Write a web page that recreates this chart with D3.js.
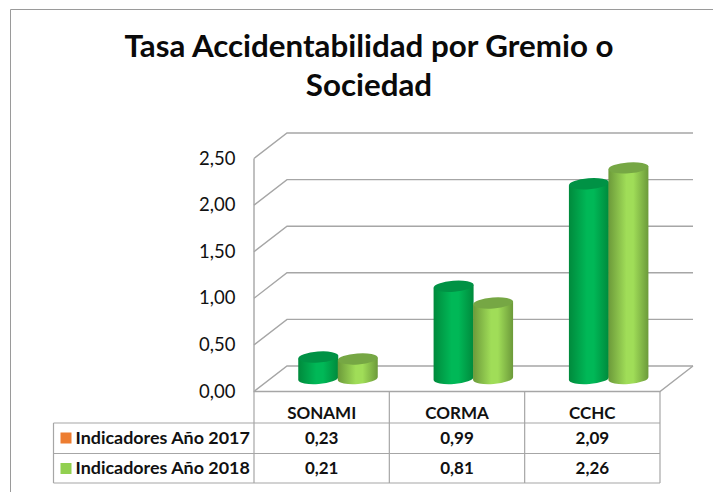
<!DOCTYPE html>
<html><head><meta charset="utf-8">
<script src="https://cdn.jsdelivr.net/npm/d3@7"></script>
<style>
html,body{margin:0;padding:0;background:#fff;overflow:hidden}
text{font-family:Lato,"Open Sans",sans-serif;fill:#111}
</style></head><body>
<svg id="c" width="713" height="492"></svg>
<script>
const categories = ["SONAMI","CORMA","CCHC"];
const seriesNames = ["Indicadores Año 2017","Indicadores Año 2018"];
const values2017 = [0.23,0.99,2.09];
const values2018 = [0.21,0.81,2.26];
const yTicks = [0,0.5,1,1.5,2,2.5];
const titleLines = ["Tasa Accidentabilidad por Gremio o","Sociedad"];
const seriesValues = [values2017,values2018];
const keyColors = ["#ed7d31","#92d050"];
const fmt = v => d3.format(".2f")(v).replace(".",",");

const svg = d3.select("#c");
const defs = svg.append("defs");
const gradients = [["#008a3c","#00b857","#00a64c"],["#6c9a3a","#a0dd58","#7fae45"]];
gradients.forEach((g,i)=>{
  const lg = defs.append("linearGradient").attr("id","cyl"+i).attr("x1",0).attr("x2",1).attr("y1",0).attr("y2",0);
  [[0,g[0]],[0.45,g[1]],[0.62,g[1]],[1,g[0]]].forEach(s=>lg.append("stop").attr("offset",s[0]).attr("stop-color",s[1]));
});
const topColors = ["#009245","#76a744"];
const grey = "#a6a6a6";

const frontL=254, frontR=660, front0=391.5, dx=33, dy=-25.5;
const y = d3.scaleLinear().domain([0,2.5]).range([front0,158.5]);
const x = d3.scaleBand().domain(categories).range([frontL,frontR]);
const sx = d3.scaleBand().domain([0,1]).range([44.5,123.5]);
const barBase = d3.scaleLinear().domain([0,2.5]).range([378.5,145.5]);

// frame: top and left edges only, as in the reference
svg.append("path").attr("d","M713,9.5H10.5V492").attr("fill","none").attr("stroke","#9a9a9a").attr("stroke-width",1);

svg.selectAll("text.t").data(titleLines).join("text").attr("class","t")
  .attr("x",369).attr("y",(d,i)=>57+i*39).attr("text-anchor","middle")
  .style("font-size","31.3px").style("font-weight",700).style("fill","#0a0a0a").text(d=>d);

const wall = svg.append("g").attr("fill","none").attr("stroke",grey).attr("stroke-width",1.4);
wall.selectAll("path.g").data(yTicks).join("path").attr("class","g")
  .attr("d",d=>`M${frontL},${y(d)}L${frontL+dx},${y(d)+dy}L${frontR+dx},${y(d)+dy}`);
wall.append("path").attr("d",`M${frontL},${y(2.5)}V${y(0)}H${frontR}L${frontR+dx},${y(0)+dy}`);

svg.selectAll("text.y").data(yTicks).join("text").attr("class","y")
  .attr("x",235.5).attr("y",d=>y(d)+6).attr("text-anchor","end")
  .style("font-size","18.5px").text(fmt);

const rx=20, ry=5.5, tilt=1.5, rot=-Math.atan2(tilt,rx)*180/Math.PI;
categories.forEach((c,ci)=>{
  seriesValues.forEach((vals,si)=>{
    const v=vals[ci];
    const cx=x(c)+sx(si)+sx.bandwidth()/2;
    const yb=barBase(0), yt=barBase(v);
    const g=svg.append("g").datum(v);
    g.append("path").attr("fill",`url(#cyl${si})`)
      .attr("d",`M${cx-rx},${yt+tilt}V${yb+tilt}A${rx},${ry} ${rot} 0 0 ${cx+rx},${yb-tilt}V${yt-tilt}Z`);
    g.append("ellipse").attr("cx",cx).attr("cy",yt).attr("rx",rx).attr("ry",ry)
      .attr("transform",`rotate(${rot} ${cx} ${yt})`).attr("fill",topColors[si]);
  });
});

const rowY=[391.5,423,453.5,483];
const colX=[frontL,x("CORMA"),x("CCHC"),frontR];
const tbl=svg.append("g").attr("stroke",grey).attr("stroke-width",1.2).attr("fill","none");
tbl.selectAll("line.v").data(colX).join("line").attr("class","v").attr("x1",d=>d).attr("x2",d=>d).attr("y1",rowY[0]).attr("y2",rowY[3]);
tbl.selectAll("line.h").data(rowY.slice(1)).join("line").attr("class","h").attr("x1",53.5).attr("x2",frontR).attr("y1",d=>d).attr("y2",d=>d);
tbl.append("line").attr("x1",53.5).attr("x2",53.5).attr("y1",rowY[1]).attr("y2",rowY[3]);

const cellStyle = s=>s.attr("text-anchor","middle").style("font-size","17px").style("font-weight",700);
svg.selectAll("text.cat").data(categories).join("text").attr("class","cat")
  .attr("x",d=>x(d)+x.bandwidth()/2).attr("y",419).call(cellStyle).text(d=>d);
seriesValues.forEach((vals,si)=>{
  svg.selectAll("text.v"+si).data(vals).join("text").attr("class","v"+si)
    .attr("x",(d,i)=>x(categories[i])+x.bandwidth()/2).attr("y",rowY[si+1]+20.5).call(cellStyle).text(fmt);
  svg.append("rect").attr("x",60.5).attr("y",rowY[si+1]+9.5).attr("width",11).attr("height",11).attr("fill",keyColors[si]);
  svg.append("text").attr("x",75.5).attr("y",rowY[si+1]+20.5).style("font-size","17.9px").style("font-weight",700).text(seriesNames[si]);
});
</script></body></html>
